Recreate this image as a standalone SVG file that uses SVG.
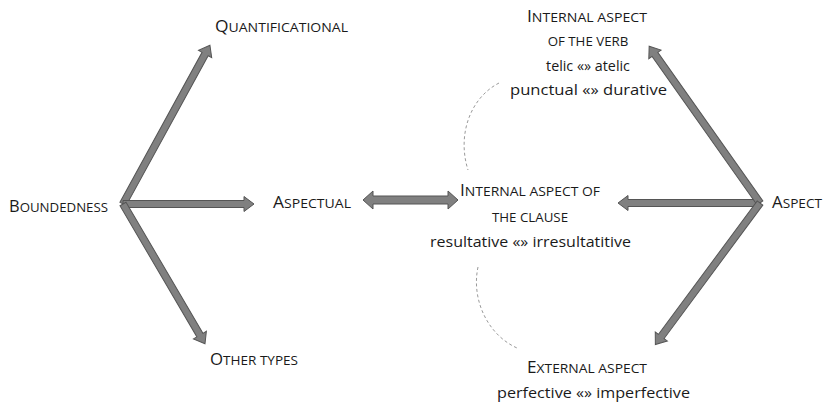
<svg xmlns="http://www.w3.org/2000/svg" width="824" height="405" viewBox="0 0 824 405">
<style>
text{font-family:"Open Sans","Liberation Sans",sans-serif;fill:#1a1a1a;}
.sc{font-size:13.3px;}
.b{font-size:16.5px;}
.lc{font-size:14.3px;}
.arr{fill:#808080;stroke:#555555;stroke-width:1;stroke-linejoin:miter;}
.arc{fill:none;stroke:#9a9a9a;stroke-width:1;stroke-dasharray:3 2.5;}
</style>
<rect width="824" height="405" fill="#ffffff"/>
<g id="connectors">
  <path class="arr" transform="translate(123,204) rotate(-61.3)" d="M0,-3.5 H171 V-7.5 L181,0 L171,7.5 V3.5 H0 Z"/>
  <path class="arr" transform="translate(123,204)" d="M0,-3.5 H121 V-7.5 L131,0 L121,7.5 V3.5 H0 Z"/>
  <path class="arr" transform="translate(123,204) rotate(59.6)" d="M0,-3.5 H152 V-7.5 L162,0 L152,7.5 V3.5 H0 Z"/>
  <path class="arr" d="M363,200 L373,191 V196 H448 V191 L458,200 L448,209 V204 H373 V209 Z"/>
  <path class="arr" transform="translate(760,203) rotate(180)" d="M0,-3.5 H132 V-7.5 L142,0 L132,7.5 V3.5 H0 Z"/>
  <path class="arr" transform="translate(760,203) rotate(-125.26)" d="M0,-3.5 H182 V-7.5 L192,0 L182,7.5 V3.5 H0 Z"/>
  <path class="arr" transform="translate(760,203) rotate(126.48)" d="M0,-3.5 H166 V-7.5 L176,0 L166,7.5 V3.5 H0 Z"/>
  <path class="arc" d="M499,83 C470,98 457,135 468,170"/>
  <path class="arc" d="M478,267 C471,300 488,335 517,348"/>
</g>
<g id="boundedness">
  <text x="9" y="212" class="sc" textLength="99" lengthAdjust="spacingAndGlyphs"><tspan class="b">B</tspan>OUNDEDNESS</text>
</g>
<g id="quantificational">
  <text x="215" y="32" class="sc" textLength="133" lengthAdjust="spacingAndGlyphs"><tspan class="b">Q</tspan>UANTIFICATIONAL</text>
</g>
<g id="aspectual">
  <text x="273" y="208" class="sc" textLength="78" lengthAdjust="spacingAndGlyphs"><tspan class="b">A</tspan>SPECTUAL</text>
</g>
<g id="other-types">
  <text x="210" y="365" class="sc" textLength="88" lengthAdjust="spacingAndGlyphs"><tspan class="b">O</tspan>THER TYPES</text>
</g>
<g id="aspect">
  <text x="772" y="208" class="sc" textLength="50" lengthAdjust="spacingAndGlyphs"><tspan class="b">A</tspan>SPECT</text>
</g>
<g id="internal-verb">
  <text x="527" y="22" class="sc" textLength="120" lengthAdjust="spacingAndGlyphs"><tspan class="b">I</tspan>NTERNAL ASPECT</text>
  <text x="588" y="46" class="sc" text-anchor="middle">OF THE VERB</text>
  <text x="588" y="71" class="lc" text-anchor="middle">telic «» atelic</text>
  <text x="510" y="95" class="lc" textLength="157" lengthAdjust="spacingAndGlyphs">punctual «» durative</text>
</g>
<g id="internal-clause">
  <text x="460" y="196" class="sc" textLength="140" lengthAdjust="spacingAndGlyphs"><tspan class="b">I</tspan>NTERNAL ASPECT OF</text>
  <text x="530" y="222" class="sc" text-anchor="middle">THE CLAUSE</text>
  <text x="430" y="247" class="lc" textLength="201" lengthAdjust="spacingAndGlyphs">resultative «» irresultatitive</text>
</g>
<g id="external">
  <text x="527" y="373" class="sc" textLength="120" lengthAdjust="spacingAndGlyphs"><tspan class="b">E</tspan>XTERNAL ASPECT</text>
  <text x="497" y="398" class="lc" textLength="193" lengthAdjust="spacingAndGlyphs">perfective «» imperfective</text>
</g>
</svg>
